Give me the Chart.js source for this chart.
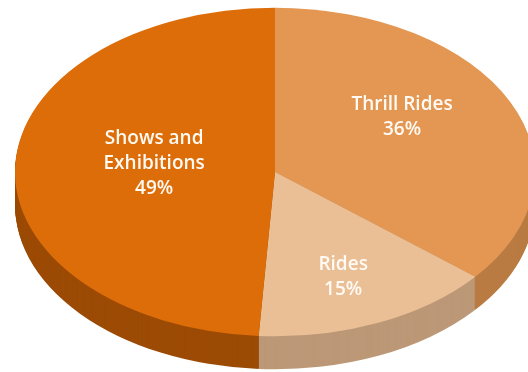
<!DOCTYPE html>
<html>
<head>
<meta charset="utf-8">
<script src="https://cdn.jsdelivr.net/npm/chart.js@4"></script>
<style>
  html, body { margin: 0; padding: 0; background: #fff; overflow: hidden; }
  body { width: 528px; height: 372px; position: relative; }
  #wrap { position: absolute; left: 0; top: 0; width: 550px; height: 550px; }
</style>
</head>
<body>
<div id="wrap"><canvas id="pieChart"></canvas></div>
<script>
const categories = [["Thrill Rides"], ["Rides"], ["Shows and", "Exhibitions"]];
const shares = [36, 15, 49];
const topColors = ["#E39752", "#EBBF95", "#DD6D08"];
const sideColors = ["#B97B42", "#BC9877", "#9C4B05"];

// tilt of the pie: vertical squash, screen y of the centre, rim depth
const SQUASH = 0.632;
const CENTER_Y = 172;
const DEPTH = 33;

// where each label sits: fraction of the radius and a vertical nudge
const labelSpots = [
  { f: 0.54, dy: -19 },
  { f: 0.66, dy: 4 },
  { f: 0.465, dy: -8 },
];

function sectorPath(ctx, arc) {
  ctx.beginPath();
  ctx.moveTo(arc.x, arc.y);
  ctx.arc(arc.x, arc.y, arc.outerRadius, arc.startAngle, arc.endAngle);
  ctx.closePath();
}

function squash(ctx, arc, shift) {
  ctx.translate(arc.x, CENTER_Y + shift);
  ctx.scale(1, SQUASH);
  ctx.translate(-arc.x, -arc.y);
}

const tiltPlugin = {
  id: "tilt",
  beforeDatasetsDraw(chart) {
    const ctx = chart.ctx;
    const arcs = chart.getDatasetMeta(0).data;
    // rim: each slice pushed down step by step in its darker shade
    for (let s = DEPTH; s >= 1; s--) {
      arcs.forEach((arc, i) => {
        ctx.save();
        squash(ctx, arc, s);
        sectorPath(ctx, arc);
        ctx.fillStyle = sideColors[i];
        ctx.fill();
        ctx.restore();
      });
    }
    ctx.save();
    squash(ctx, arcs[0], 0);
  },
  afterDatasetsDraw(chart) {
    const ctx = chart.ctx;
    ctx.restore();

    const arcs = chart.getDatasetMeta(0).data;
    const total = shares.reduce((a, b) => a + b, 0);
    const lineHeight = 25;
    ctx.save();
    ctx.fillStyle = "#FFFAF4";
    ctx.font = "600 19px 'Open Sans'";
    ctx.textAlign = "center";
    ctx.textBaseline = "alphabetic";
    arcs.forEach((arc, i) => {
      const mid = (arc.startAngle + arc.endAngle) / 2;
      const spot = labelSpots[i];
      const x = arc.x + Math.cos(mid) * arc.outerRadius * spot.f;
      const y = CENTER_Y + Math.sin(mid) * arc.outerRadius * SQUASH * spot.f + spot.dy;
      const lines = categories[i].concat([Math.round((shares[i] / total) * 100) + "%"]);
      lines.forEach((text, j) => {
        const by = y + (j - (lines.length - 1) / 2) * lineHeight + 7;
        ctx.fillText(text, x, by);
      });
    });
    ctx.restore();
  },
};

new Chart(document.getElementById("pieChart"), {
  type: "pie",
  data: {
    labels: categories,
    datasets: [
      {
        data: shares,
        backgroundColor: topColors,
        borderWidth: 0,
      },
    ],
  },
  options: {
    responsive: true,
    maintainAspectRatio: false,
    animation: false,
    layout: { padding: 15 },
    plugins: {
      legend: { display: false },
      tooltip: { enabled: false },
    },
  },
  plugins: [tiltPlugin],
});
</script>
</body>
</html>
